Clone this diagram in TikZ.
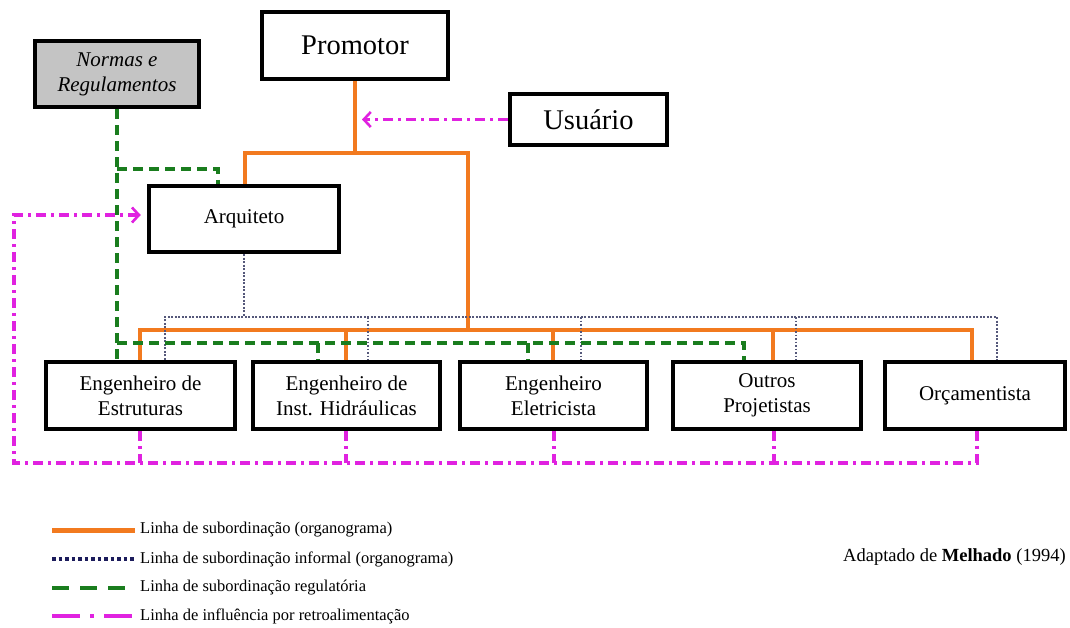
\documentclass[tikz,border=0pt]{standalone}
\usepackage{fontspec}
\setmainfont{Liberation Serif}
\usetikzlibrary{arrows.meta,backgrounds}

\definecolor{orgorange}{HTML}{F27A1F}
\definecolor{infgray}{HTML}{55587A}
\definecolor{infnavy}{HTML}{1C1C5C}
\definecolor{reggreen}{HTML}{1A7D1E}
\definecolor{fbmagenta}{HTML}{E022E0}
\definecolor{normgray}{HTML}{C4C4C4}

\tikzset{
  box/.style={draw=black, line width=4.5pt, fill=white, inner sep=0pt, align=center,
              font=\fontsize{21}{25}\selectfont},
  bigbox/.style={box, font=\fontsize{28.5}{32}\selectfont},
  orgline/.style={draw=orgorange, line width=4.5pt},
  infline/.style={draw=infgray, line width=1.8pt, dash pattern=on 1.8pt off 1.7pt},
  regline/.style={draw=reggreen, line width=3.2pt, dash pattern=on 10pt off 6pt},
  fbline/.style={draw=fbmagenta, line width=3.2pt, dash pattern=on 10pt off 5pt on 3pt off 5pt},
  fbarrow/.style={-{Straight Barb[length=7pt,width=15pt,line width=2.6pt]}},
  legtext/.style={anchor=west, inner sep=0pt, font=\fontsize{16.5}{19}\selectfont},
}

\begin{document}
\begin{tikzpicture}[x=1pt, y=-1pt]
\useasboundingbox (0,0) rectangle (1070,628);

% ---- boxes ----
\node[box, fill=normgray, minimum width=164pt, minimum height=66pt,
      font=\fontsize{21}{25}\selectfont\itshape] (norm) at (117,74) {Normas e\\Regulamentos};
\node[bigbox, minimum width=186pt, minimum height=67pt] (prom) at (355,45.5) {Promotor};
\node[bigbox, minimum width=157pt, minimum height=51pt] (usu) at (588.5,119.5) {Usuário};
\node[box, minimum width=190pt, minimum height=66pt] (arq) at (244,219) {Arquiteto};

\node[box, minimum width=189pt, minimum height=67pt] (est) at (140.5,395.5) {Engenheiro de\\Estruturas};
\node[box, minimum width=187pt, minimum height=67pt] (hid) at (346.5,395.5) {Engenheiro de\\Inst. Hidráulicas};
\node[box, minimum width=187pt, minimum height=67pt] (ele) at (553.5,395.5) {Engenheiro\\Eletricista};
\node[box, minimum width=188pt, minimum height=67pt] (out) at (767,395.5) {Outros\\Projetistas};
\node[box, minimum width=180pt, minimum height=67pt] (orc) at (975,395.5) {Orçamentista};

% ---- junction points ----
\coordinate (pj) at (355,153);
\coordinate (aj) at (245,153);
\coordinate (rj) at (468,153);
\coordinate (rb) at (468,330);
\coordinate (ob1) at (140,330);
\coordinate (ob2) at (346,330);
\coordinate (ob3) at (553,330);
\coordinate (ob4) at (773,330);
\coordinate (ob5) at (972,330);

\coordinate (ib0) at (244,317);
\coordinate (ib1) at (165,317);
\coordinate (ib2) at (368,317);
\coordinate (ib3) at (581,317);
\coordinate (ib4) at (796,317);
\coordinate (ib5) at (997,317);

\coordinate (ga) at (218,169);
\coordinate (gb1) at (117,343);
\coordinate (gb2) at (318,343);
\coordinate (gb3) at (528,343);
\coordinate (gb4) at (744,343);

\coordinate (ut) at (362,119.5);
\coordinate (fa) at (14,215);
\coordinate (fb0) at (14,463);
\coordinate (fb1) at (140,463);
\coordinate (fb2) at (346,463);
\coordinate (fb3) at (554,463);
\coordinate (fb4) at (774,463);
\coordinate (fb5) at (977,463);

\begin{scope}[on background layer]
\fill[white] (0,0) rectangle (1070,628);

% formal subordination (orange)
\draw[orgline] (prom.south) -- (pj);
\draw[orgline] (aj |- arq.north) -- (aj) -- (rj) -- (rb);
\draw[orgline] (ob1 |- est.north) -- (ob1) -- (ob5) -- (ob5 |- orc.north);
\draw[orgline] (ob2) -- (ob2 |- hid.north);
\draw[orgline] (ob3) -- (ob3 |- ele.north);
\draw[orgline] (ob4) -- (ob4 |- out.north);

% informal subordination (dotted)
\draw[infline] (arq.south) -- (ib0);
\draw[infline] (ib1 |- est.north) -- (ib1) -- (ib5) -- (ib5 |- orc.north);
\draw[infline] (ib2) -- (ib2 |- hid.north);
\draw[infline] (ib3) -- (ib3 |- ele.north);
\draw[infline] (ib4) -- (ib4 |- out.north);

% regulatory subordination (green dashed)
\draw[regline] (norm.south) -- (norm.south |- est.north);
\draw[regline] (norm.south |- ga) -- (ga) -- (ga |- arq.north);
\draw[regline] (gb1) -- (gb4) -- (gb4 |- out.north);
\draw[regline] (gb2) -- (gb2 |- hid.north);
\draw[regline] (gb3) -- (gb3 |- ele.north);

% feedback influence (magenta dash-dot)
\draw[fbline, fbarrow] (usu.west) -- (ut);
\draw[fbline] (fb1 |- est.south) -- (fb1);
\draw[fbline] (fb2 |- hid.south) -- (fb2);
\draw[fbline] (fb3 |- ele.south) -- (fb3);
\draw[fbline] (fb4 |- out.south) -- (fb4);
\draw[fbline, fbarrow, shorten >=6pt] (fb5 |- orc.south) -- (fb5) -- (fb0) -- (fa) -- (fa -| arq.west);
\end{scope}

% ---- legend ----
\coordinate (l1a) at (52,530);  \coordinate (l1b) at (135,530);
\coordinate (l2a) at (52,559);  \coordinate (l2b) at (135,559);
\coordinate (l3a) at (52,588);  \coordinate (l3b) at (135,588);
\coordinate (l4a) at (52,616);  \coordinate (l4b) at (135,616);
\draw[draw=orgorange, line width=5pt] (l1a) -- (l1b);
\draw[draw=infnavy, line width=3.5pt, dash pattern=on 3.5pt off 3pt] (l2a) -- (l2b);
\draw[draw=reggreen, line width=3.5pt, dash pattern=on 17pt off 11pt] (l3a) -- (l3b);
\draw[draw=fbmagenta, line width=3.5pt, dash pattern=on 28pt off 10pt on 4pt off 10pt] (l4a) -- (l4b);
\node[legtext] (leg1) at (140,530) {Linha de subordinação (organograma)};
\node[legtext] (leg2) at (140,559) {Linha de subordinação informal (organograma)};
\node[legtext] (leg3) at (140,588) {Linha de subordinação regulatória};
\node[legtext] (leg4) at (140,616) {Linha de influência por retroalimentação};

\node[anchor=west, inner sep=0pt, font=\fontsize{18.5}{21}\selectfont] (src) at (843,557)
  {Adaptado de \textbf{Melhado} (1994)};
\end{tikzpicture}
\end{document}
